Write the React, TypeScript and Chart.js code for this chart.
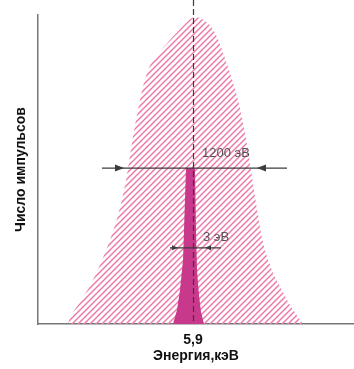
import React, { useEffect, useRef } from "react";
import { Chart, registerables } from "chart.js";

Chart.register(...registerables);

// Broad (hatched) peak: energy in keV, counts in arbitrary units (peak = 100)
const broadEnergy = [4.90, 4.916, 4.996, 5.092, 5.212, 5.30, 5.372, 5.412, 5.476, 5.54, 5.636, 5.732, 5.82, 5.916, 5.996, 6.076, 6.18, 6.26, 6.316, 6.356, 6.388, 6.42, 6.452, 6.516, 6.596, 6.676, 6.78];
const broadCounts = [0, 2.0, 7.2, 13.7, 24.8, 35.5, 48.5, 59.0, 73.0, 82.7, 88.6, 93.2, 97.1, 100, 98.7, 94.8, 83.7, 73.0, 62.2, 52.4, 43.6, 35.5, 28.0, 19.2, 12.1, 6.2, 0];

// Narrow (solid) peak
const narrowEnergy = [5.74, 5.772, 5.796, 5.82, 5.828, 5.844, 5.916, 5.924, 5.932, 5.948, 5.964, 5.988];
const narrowCounts = [0, 4.6, 11.1, 20.8, 30.6, 50.8, 50.8, 30.6, 17.6, 9.4, 3.9, 0];

const peakEnergy = 5.9;
const xTickValues = [5.9];
const xTickLabels = ["5,9"];

// Width markers: [line start, left arrow tip, right arrow tip, line end] and their level
const wideMarker = [5.172, 5.348, 6.412, 6.652];
const wideLevel = 50.8;
const narrowMarker = [5.716, 5.78, 5.996, 6.124];
const narrowLevel = 24.8;

const labelTexts = ["1200 эВ", "3 эВ"];
const labelEnergy = [5.972, 5.98];
const labelCounts = [55.5, 28.3];

const xTitle = "Энергия,кэВ";
const yTitle = "Число импульсов";

function makeHatch(color: string) {
  const s = 6;
  const c = document.createElement("canvas");
  c.width = s;
  c.height = s;
  const g = c.getContext("2d")!;
  g.strokeStyle = color;
  g.lineWidth = 1.5;
  g.beginPath();
  g.moveTo(-1, s + 1);
  g.lineTo(s + 1, -1);
  g.moveTo(-s / 2 - 1, s / 2 + 1);
  g.lineTo(s / 2 + 1, -s / 2 - 1);
  g.moveTo(s / 2 - 1, s * 1.5 + 1);
  g.lineTo(s * 1.5 + 1, s / 2 - 1);
  g.stroke();
  return g.createPattern(c, "repeat")!;
}

const annotPlugin = {
  id: "annot",
  afterDatasetsDraw(chart: any) {
    const { ctx, chartArea, scales } = chart;
    const x = scales.x;
    const y = scales.y;
    ctx.save();
    // dashed centre line
    const px = Math.round(x.getPixelForValue(peakEnergy)) + 0.5;
    ctx.strokeStyle = "#3a3a3a";
    ctx.lineWidth = 1.2;
    ctx.setLineDash([6, 3]);
    ctx.beginPath();
    ctx.moveTo(px, 0);
    ctx.lineTo(px, chartArea.bottom);
    ctx.stroke();
    ctx.setLineDash([]);

    const drawMarker = (m: number[], level: number, len: number, half: number) => {
      const py = y.getPixelForValue(level);
      const [a, t1, t2, b] = m.map((v) => x.getPixelForValue(v));
      ctx.strokeStyle = "#3c3c3c";
      ctx.fillStyle = "#3c3c3c";
      ctx.lineWidth = 1.3;
      ctx.beginPath();
      ctx.moveTo(a, py);
      ctx.lineTo(b, py);
      ctx.stroke();
      ctx.beginPath();
      ctx.moveTo(t1, py);
      ctx.lineTo(t1 - len, py - half);
      ctx.lineTo(t1 - len, py + half);
      ctx.closePath();
      ctx.fill();
      ctx.beginPath();
      ctx.moveTo(t2, py);
      ctx.lineTo(t2 + len, py - half);
      ctx.lineTo(t2 + len, py + half);
      ctx.closePath();
      ctx.fill();
    };
    drawMarker(wideMarker, wideLevel, 9, 3.5);
    drawMarker(narrowMarker, narrowLevel, 6, 2.5);

    ctx.fillStyle = "#555555";
    ctx.font = "13px 'Liberation Sans', Arial, sans-serif";
    ctx.textAlign = "left";
    ctx.textBaseline = "middle";
    labelTexts.forEach((t, i) => {
      ctx.fillText(t, x.getPixelForValue(labelEnergy[i]), y.getPixelForValue(labelCounts[i]));
    });
    ctx.restore();
  },
};

export default function App() {
  const ref = useRef<HTMLCanvasElement>(null);
  useEffect(() => {
    const hatch = makeHatch("rgb(238,122,170)");
    const chart = new Chart(ref.current!, {
      type: "line",
      data: {
        datasets: [
          {
            data: narrowEnergy.map((e, i) => ({ x: e, y: narrowCounts[i] })),
            borderWidth: 0,
            pointRadius: 0,
            fill: "origin",
            backgroundColor: "#c8388b",
            borderColor: "rgba(0,0,0,0)",
            tension: 0,
          },
          {
            data: broadEnergy.map((e, i) => ({ x: e, y: broadCounts[i] })),
            borderWidth: 0,
            pointRadius: 0,
            fill: "origin",
            backgroundColor: hatch,
            borderColor: "rgba(0,0,0,0)",
            cubicInterpolationMode: "monotone",
          },
        ],
      },
      options: {
        animation: false,
        responsive: true,
        maintainAspectRatio: false,
        layout: { padding: { top: 15, right: 0, left: 0, bottom: 0 } },
        plugins: { legend: { display: false }, tooltip: { enabled: false } },
        scales: {
          x: {
            type: "linear",
            min: 4.66,
            max: 7.188,
            grid: { display: false, drawTicks: false },
            border: { display: true, color: "#777", width: 1.5 },
            afterBuildTicks: (s: any) => {
              s.ticks = xTickValues.map((v) => ({ value: v }));
            },
            afterFit: (s: any) => {
              s.height = 45;
            },
            ticks: {
              padding: 8,
              color: "#111",
              font: { family: "'Liberation Sans', Arial, sans-serif", size: 14, weight: "bold" },
              callback: (v: any) => {
                const i = xTickValues.indexOf(Number(v));
                return i >= 0 ? xTickLabels[i] : "";
              },
              maxRotation: 0,
            },
            title: {
              display: true,
              text: xTitle,
              color: "#111",
              font: { family: "'Liberation Sans', Arial, sans-serif", size: 14, weight: "bold" },
              padding: { top: 0, bottom: 4 },
            },
          },
          y: {
            type: "linear",
            min: 0,
            max: 100.65,
            grid: { display: false, drawTicks: false },
            border: { display: true, color: "#777", width: 1.5 },
            ticks: { display: false },
            afterFit: (s: any) => {
              s.width = 38;
            },
            title: {
              display: true,
              text: yTitle,
              color: "#111",
              font: { family: "'Liberation Sans', Arial, sans-serif", size: 14, weight: "bold" },
              padding: { top: 13, bottom: 0 },
            },
          },
        },
      },
      plugins: [annotPlugin],
    });
    return () => chart.destroy();
  }, []);
  return (
    <div style={{ position: "absolute", left: 0, top: 0, width: 354, height: 369, background: "#fff" }}>
      <canvas ref={ref} />
    </div>
  );
}
